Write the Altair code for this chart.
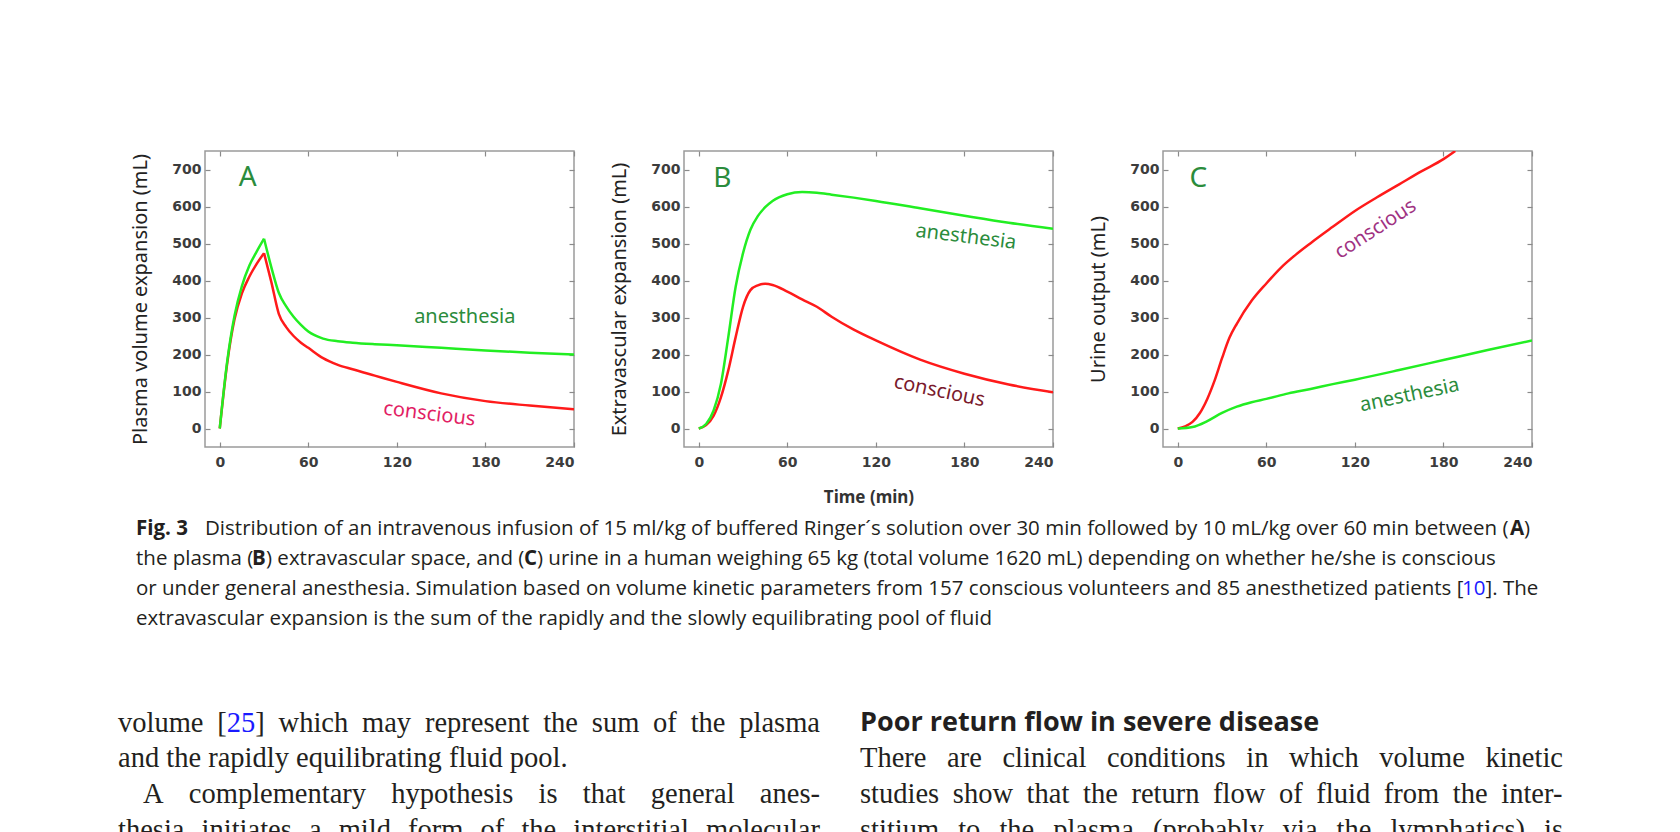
import altair as alt
import pandas as pd

# ---- values (time in min, volume in mL) ----
X_TICKS = [0, 60, 120, 180, 240]
Y_TICKS = [0, 100, 200, 300, 400, 500, 600, 700]

# A: plasma volume expansion
t_plasma = [0, 5, 10, 15, 20, 25, 30, 35, 40, 45, 50, 55, 60, 70, 80, 90, 105, 120, 150, 180, 210, 240]
plasma_anesthesia = [0, 180, 305, 385, 440, 478, 513, 435, 367, 330, 302, 280, 262, 243, 236, 232, 228, 225, 218, 211, 205, 200]
plasma_conscious = [0, 175, 295, 365, 410, 445, 474, 395, 310, 274, 250, 232, 218, 190, 172, 160, 143, 126, 95, 74, 62, 52]

# B: extravascular expansion
t_extra = [0, 5, 10, 15, 20, 25, 30, 35, 40, 45, 50, 60, 70, 80, 90, 105, 120, 150, 180, 210, 240]
extra_anesthesia = [0, 12, 48, 120, 247, 383, 474, 537, 574, 598, 615, 633, 639, 637, 632, 624, 615, 595, 575, 556, 540]
extra_conscious = [0, 9, 34, 84, 157, 247, 329, 374, 387, 391, 388, 370, 349, 329, 302, 267, 238, 186, 148, 119, 98]

# C: urine output
t_urine_c = [0, 5, 10, 15, 20, 25, 30, 35, 40, 50, 60, 70, 80, 90, 105, 120, 135, 150, 165, 180, 188]
urine_conscious = [0, 6, 18, 42, 80, 130, 190, 245, 283, 345, 392, 435, 470, 501, 545, 588, 625, 660, 695, 728, 750]
t_urine_a = [0, 10, 20, 30, 40, 50, 60, 75, 90, 105, 120, 150, 180, 210, 240]
urine_anesthesia = [0, 4, 20, 42, 59, 71, 80, 95, 107, 120, 132, 158, 185, 212, 238]

RED = "#ff1a1a"
GREEN = "#22ee22"
LABEL_GREEN = "#2b8c3c"
INK = "#231f20"
LINK = "#1a1aff"

SANS = "Noto Sans"
CAPTION = "Open Sans"
CAP_SIZE = 20.5
SERIF = "Liberation Serif"
BODY_SIZE = 28.5

W, H = 369, 296
x_scale = alt.Scale(domain=[-10, 240], nice=False, zero=False)
y_scale = alt.Scale(domain=[-50, 750], nice=False, zero=False)


def inner_axis(orient, values, title="", labels=True, **kw):
    return alt.Axis(orient=orient, values=values, offset=-5, tickSize=5, domain=False,
                    grid=False, labels=labels, title=title, **kw)


def curve(t, v, color, ax_x, ax_y, corner=None):
    df = pd.DataFrame({"time": t, "ml": v, "seg": 0})
    if corner is not None:
        # the infusion switch gives a sharp corner: smooth each side on its own
        after = df[df["time"] >= corner].assign(seg=1)
        df = pd.concat([df[df["time"] <= corner], after])
    return alt.Chart(df).mark_line(color=color, strokeWidth=2.5, clip=True,
                                   interpolate="monotone").encode(
        x=alt.X("time:Q", scale=x_scale, axis=ax_x),
        y=alt.Y("ml:Q", scale=y_scale, axis=ax_y),
        detail="seg:N",
    )


def note(text, x, y, color, size=20, angle=0):
    return alt.Chart(alt.Data(values=[{}])).mark_text(
        text=text, color=color, fontSize=size, font=SANS, angle=angle
    ).encode(x=alt.datum(x), y=alt.datum(y))


def page_text(text, x, y, size=CAP_SIZE, font=CAPTION, weight="normal", color=INK, align="left"):
    return alt.Chart(alt.Data(values=[{}])).mark_text(
        text=text, fontSize=size, font=font, fontWeight=weight, color=color,
        align=align, baseline="middle"
    ).encode(x=alt.value(x), y=alt.value(y))


def panel(t_red, red, t_green, green, ytitle, notes, xtitle="", extra=(), corner=None):
    main = alt.layer(
        curve(t_red, red, RED,
              inner_axis("bottom", X_TICKS, xtitle, labelPadding=8, titlePadding=20),
              inner_axis("left", Y_TICKS, ytitle, labelPadding=4, titlePadding=21),
              corner),
        *notes, *extra,
    )
    frame = curve(t_green, green, GREEN,
                  inner_axis("top", X_TICKS, labels=False),
                  inner_axis("right", Y_TICKS, labels=False), corner)
    return alt.layer(main, frame).resolve_axis(x="independent", y="independent").properties(
        width=W, height=H)


# ---- caption (pixel offsets from panel A's plot corner) ----
caption = [
    page_text("Fig. 3", -69, 378, weight="bold"),
    page_text("Distribution of an intravenous infusion of 15 ml/kg of buffered Ringer\u00b4s solution "
              "over 30 min followed by 10 mL/kg over 60 min between (", 0, 378),
    page_text("A", 1305, 378, weight="bold"),
    page_text(")", 1319, 378),
    page_text("the plasma (", -69, 408),
    page_text("B", 47, 408, weight="bold"),
    page_text(") extravascular space, and (", 61, 408),
    page_text("C", 319, 408, weight="bold"),
    page_text(") urine in a human weighing 65 kg (total volume 1620 mL) depending on whether "
              "he/she is conscious", 332, 408),
    page_text("or under general anesthesia. Simulation based on volume kinetic parameters from "
              "157 conscious volunteers and 85 anesthetized patients [", -69, 438),
    page_text("10", 1257, 438, color=LINK),
    page_text("]. The", 1280.5, 438),
    page_text("extravascular expansion is the sum of the rapidly and the slowly equilibrating "
              "pool of fluid", -69, 468),
]

# ---- justified body text below the figure ----
TIMES = dict(zip("abcdefghijklmnopqrstuvwxyz",
                 [444, 500, 444, 500, 444, 333, 500, 500, 278, 278, 500, 278, 778,
                  500, 500, 500, 500, 333, 389, 278, 500, 500, 722, 500, 500, 444]))
TIMES.update({"A": 722, "T": 611, "[": 333, "]": 333, "(": 333, ")": 333, "-": 333,
              ".": 250, "2": 500, "5": 500})


def word_width(word):
    return sum(TIMES.get(ch, 500) for ch in word) * BODY_SIZE / 1000


def justified(line, left, right, y, justify=True):
    words = line.split(" ")
    widths = [word_width(w) for w in words]
    gap = (right - left - sum(widths)) / (len(words) - 1) if justify else 0.25 * BODY_SIZE
    out, x = [], left
    for w, wd in zip(words, widths):
        if w == "[25]":
            out += [page_text("[", x, y, BODY_SIZE, SERIF),
                    page_text("25", x + word_width("["), y, BODY_SIZE, SERIF, color=LINK),
                    page_text("]", x + word_width("[25"), y, BODY_SIZE, SERIF)]
        else:
            out.append(page_text(w, x, y, BODY_SIZE, SERIF))
        x += wd + gap
    return out


LEFT_COL, RIGHT_COL = (-87, 615), (655, 1358)
body = (
    justified("volume [25] which may represent the sum of the plasma", *LEFT_COL, 572)
    + justified("and the rapidly equilibrating fluid pool.", LEFT_COL[0], 0, 607, justify=False)
    + justified("A complementary hypothesis is that general anes-", -62, LEFT_COL[1], 643)
    + justified("thesia initiates a mild form of the interstitial molecular", *LEFT_COL, 679)
    + [page_text("Poor return flow in severe disease", RIGHT_COL[0], 572, 27, weight="bold")]
    + justified("There are clinical conditions in which volume kinetic", *RIGHT_COL, 607)
    + justified("studies show that the return flow of fluid from the inter-", *RIGHT_COL, 643)
    + justified("stitium to the plasma (probably via the lymphatics) is", *RIGHT_COL, 679)
)

pa = panel(t_plasma, plasma_conscious, t_plasma, plasma_anesthesia,
           "Plasma volume expansion (mL)",
           [note("A", 19, 677, LABEL_GREEN, size=28),
            note("anesthesia", 166, 301, LABEL_GREEN),
            note("conscious", 142, 39, "#e21e64", angle=7)],
           extra=caption + body, corner=30)
pb = panel(t_extra, extra_conscious, t_extra, extra_anesthesia,
           "Extravascular expansion (mL)",
           [note("B", 16, 674, LABEL_GREEN, size=28),
            note("anesthesia", 181, 518, LABEL_GREEN, angle=7),
            note("conscious", 163, 101, "#7a1a2c", angle=12)],
           xtitle="Time (min)")
pc = panel(t_urine_c, urine_conscious, t_urine_a, urine_anesthesia,
           "Urine output (mL)",
           [note("C", 14, 674, LABEL_GREEN, size=28),
            note("conscious", 134, 539, "#a03282", angle=327),
            note("anesthesia", 157, 90, LABEL_GREEN, angle=348)])

chart = alt.hconcat(pa, pb, pc, spacing=110, bounds="flush").properties(
    padding={"left": 109, "top": 141, "right": 8, "bottom": 0}
).configure_view(
    stroke="#9a9a9a", strokeWidth=1.5
).configure_axis(
    labelFont="DejaVu Sans", labelFontWeight="bold", labelFontSize=14, labelColor="#3c3c3c",
    tickColor="#8a8a8a", tickWidth=1.2,
    titleFont=SANS, titleFontSize=20, titleFontWeight="normal", titleColor="#222222",
).configure_axisBottom(
    titleFontSize=17, titleFontWeight="bold", titleColor="#333333"
)

chart.save("out.html", embed_options={"renderer": "svg", "actions": False})
